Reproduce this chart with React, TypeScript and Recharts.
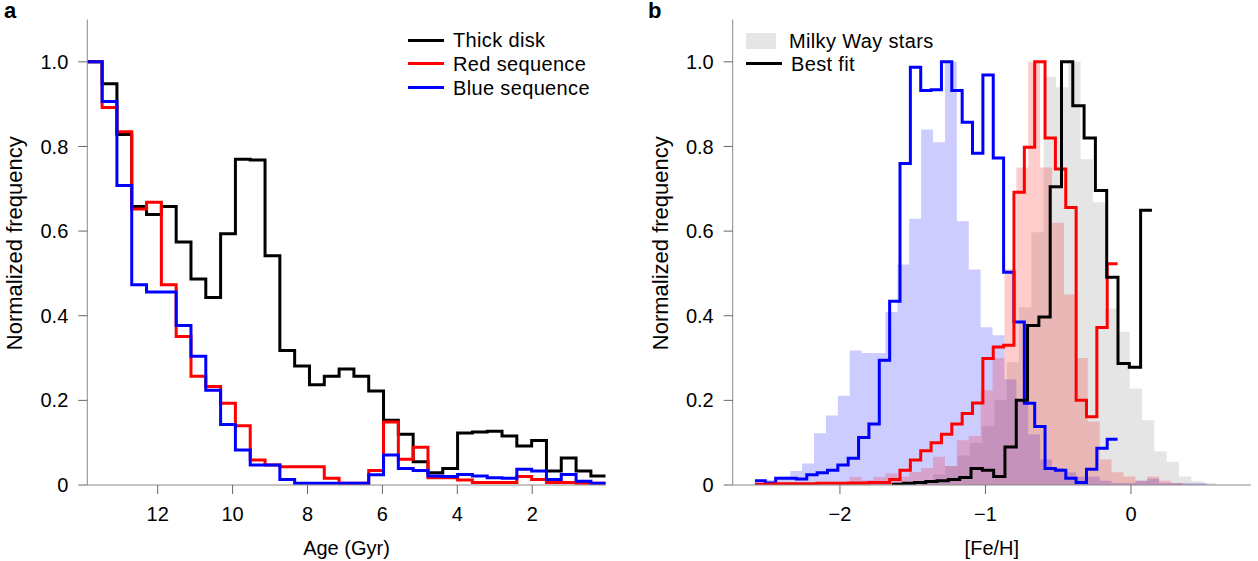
import React from "react";
import { Area, ComposedChart, Line, XAxis, YAxis } from "recharts";

const FONT = '"Liberation Sans", Arial, Helvetica, sans-serif';
const AXIS_GREY = "#8a8a8a";
const TICK_GREY = "#666";

// ---- panel a: age histograms (35 bins, ~0.4 Gyr wide, old -> young) ----
const AGE_START = 13.88;
const AGE_BIN = 0.3955;
const thickDisk = [
  1.0, 0.948, 0.828, 0.658, 0.639, 0.658, 0.574, 0.487, 0.443, 0.594, 0.77, 0.768,
  0.542, 0.318, 0.281, 0.237, 0.257, 0.274, 0.257, 0.222, 0.153, 0.12, 0.055, 0.029,
  0.039, 0.123, 0.125, 0.127, 0.116, 0.092, 0.105, 0.033, 0.064, 0.033, 0.021,
];
const redSequence = [
  1.0, 0.892, 0.835, 0.652, 0.668, 0.473, 0.351, 0.257, 0.233, 0.193, 0.14, 0.059,
  0.047, 0.043, 0.043, 0.043, 0.016, 0.004, 0.004, 0.034, 0.149, 0.061, 0.089, 0.017,
  0.017, 0.012, 0.006, 0.006, 0.006, 0.02, 0.013, 0.006, 0.006, 0.004, 0.004,
];
const blueSequence = [
  1.0, 0.906, 0.708, 0.473, 0.456, 0.456, 0.377, 0.304, 0.224, 0.143, 0.083, 0.047,
  0.047, 0.013, 0.004, 0.004, 0.004, 0.004, 0.004, 0.024, 0.071, 0.039, 0.034, 0.021,
  0.02, 0.025, 0.021, 0.017, 0.016, 0.037, 0.033, 0.013, 0.025, 0.009, 0.004,
];
const ageTicks = [12, 10, 8, 6, 4, 2];

// ---- panel b: [Fe/H] histograms ----
// fitted step lines
const LINE_START = -2.584;
const LINE_BIN = 0.0712;
const blueFit = [
  0.01, 0.005, 0.016, 0.016, 0.014, 0.024, 0.029, 0.035, 0.047, 0.063, 0.112, 0.144,
  0.295, 0.434, 0.76, 0.987, 0.932, 0.934, 1.0, 0.932, 0.857, 0.784, 0.969, 0.773,
  0.503, 0.385, 0.193, 0.138, 0.039, 0.035, 0.016, 0.006, 0.037, 0.087, 0.108,
];
const redFit = [
  0.002, 0.002, 0.003, 0.003, 0.003, 0.003, 0.004, 0.004, 0.004, 0.005, 0.005, 0.006,
  0.006, 0.013, 0.035, 0.059, 0.081, 0.1, 0.12, 0.144, 0.169, 0.194, 0.299, 0.326,
  0.33, 0.692, 0.798, 1.0, 0.82, 0.747, 0.656, 0.2, 0.161, 0.372, 0.523,
];
const BEST_START = -1.643;
const BEST_BIN = 0.0777;
const bestFit = [
  0.002, 0.004, 0.006, 0.008, 0.01, 0.013, 0.018, 0.039, 0.035, 0.02, 0.09, 0.2,
  0.377, 0.397, 0.705, 1.0, 0.896, 0.82, 0.696, 0.491, 0.287, 0.278, 0.649,
];
// shaded histograms: Milky Way stars (own binning) and the two model sequences
const MW_START = -1.4447;
const MW_BIN = 0.0845;
const milkyWay = [
  0.01, 0.025, 0.045, 0.07, 0.1, 0.14, 0.2, 0.29, 0.42, 0.597, 0.965, 0.94, 1.0, 0.77,
  0.668, 0.417, 0.362, 0.228, 0.153, 0.079, 0.055, 0.02, 0.009, 0.004,
];
const FILL_START = -2.669;
const FILL_BIN = 0.0818;
const blueStars = [
  0, 0.005, 0.012, 0.02, 0.033, 0.051, 0.122, 0.164, 0.211, 0.318, 0.312, 0.312, 0.409,
  0.521, 0.629, 0.84, 0.81, 1.0, 0.623, 0.509, 0.373, 0.354, 0.25, 0.2, 0.12, 0.06, 0.04,
  0.03, 0.02, 0.02, 0.01, 0.005, 0.005, 0.01, 0.015, 0.005, 0.005, 0.005, 0.005, 0, 0,
];
const redStars = [
  0, 0, 0, 0, 0, 0, 0, 0, 0.005, 0.019, 0.011, 0.019, 0.027, 0.02, 0.031, 0.04, 0.067,
  0.045, 0.106, 0.116, 0.224, 0.3, 0.51, 0.75, 1.0, 0.75, 0.62, 0.45, 0.3, 0.15, 0.06,
  0.03, 0.02, 0.01, 0.02, 0.01, 0.005, 0, 0, 0, 0,
];
const fehTicks = [-2, -1, 0];
const freqTicks = [0, 0.2, 0.4, 0.6, 0.8, 1.0];

// bin edges -> points for a stepAfter curve (last value repeated at the closing edge)
function steps(start: number, width: number, values: number[]) {
  const pts = values.map((v, i) => ({ x: start + width * i, y: v }));
  pts.push({ x: start + width * values.length, y: values[values.length - 1] });
  return pts;
}

const ageRows = thickDisk.map((_, i) => ({
  age: AGE_START - AGE_BIN * i,
  thick: thickDisk[i],
  red: redSequence[i],
  blue: blueSequence[i],
}));
ageRows.push({
  age: AGE_START - AGE_BIN * thickDisk.length,
  thick: thickDisk[thickDisk.length - 1],
  red: redSequence[redSequence.length - 1],
  blue: blueSequence[blueSequence.length - 1],
});

const tickStyle = { fill: "#000", fontSize: 20, fontFamily: FONT };
const freqFmt = (v: number) => (v === 0 ? "0" : v.toFixed(1));
const fehFmt = (v: number) => (v < 0 ? "\u2212" + Math.abs(v) : String(v));

function YTitle({ viewBox, cx }: any) {
  const y = viewBox.y + viewBox.height / 2 - 9;
  return (
    <text
      x={cx}
      y={y}
      transform={`rotate(-90 ${cx} ${y})`}
      textAnchor="middle"
      dominantBaseline="central"
      fontSize={22}
      fontFamily={FONT}
      fill="#000"
    >
      Normalized frequency
    </text>
  );
}

function XTitle({ viewBox, text }: any) {
  return (
    <text
      x={viewBox.x + viewBox.width / 2}
      y={548}
      textAnchor="middle"
      dominantBaseline="central"
      fontSize={20}
      fontFamily={FONT}
      fill="#000"
    >
      {text}
    </text>
  );
}

const legendText: React.CSSProperties = {
  position: "absolute",
  fontFamily: FONT,
  fontSize: 20,
  letterSpacing: "0.35px",
  lineHeight: "20px",
  height: 20,
  color: "#000",
  whiteSpace: "nowrap",
};

function LineKey({ x, y, color, label }: { x: number; y: number; color: string; label: string }) {
  return (
    <>
      <div style={{ position: "absolute", left: x, top: y - 1.5, width: 36, height: 3, background: color }} />
      <div style={{ ...legendText, left: x + 45, top: y - 10 }}>{label}</div>
    </>
  );
}

export default function App() {
  return (
    <div style={{ position: "absolute", left: 0, top: 0, width: 1258, height: 561, background: "#fff" }}>
      {/* panel a */}
      <div style={{ position: "absolute", left: 0, top: 0 }}>
        <ComposedChart width={620} height={561} data={ageRows} margin={{ top: 19.5, right: 14.3, left: 0, bottom: 0 }}>
          <XAxis
            dataKey="age"
            type="number"
            reversed
            domain={[AGE_START - AGE_BIN * 35, AGE_START]}
            allowDataOverflow
            ticks={ageTicks}
            tick={tickStyle}
            tickSize={9}
            tickMargin={13}
            tickLine={{ stroke: TICK_GREY }}
            axisLine={{ stroke: AXIS_GREY }}
            height={76}
            label={<XTitle text="Age (Gyr)" />}
          />
          <XAxis xAxisId="top" orientation="top" type="number" domain={[0, 1]} height={0} tick={false} tickLine={false} axisLine={{ stroke: "#222" }} />
          <YAxis
            type="number"
            domain={[0, 1.1]}
            allowDataOverflow
            ticks={freqTicks}
            tickFormatter={freqFmt}
            tick={tickStyle}
            tickSize={9}
            tickMargin={10}
            tickLine={{ stroke: TICK_GREY }}
            axisLine={{ stroke: AXIS_GREY }}
            width={87.3}
            label={<YTitle cx={14} />}
          />
          <YAxis yAxisId="right" orientation="right" type="number" domain={[0, 1]} width={0} tick={false} tickLine={false} axisLine={{ stroke: "#222" }} />
          <Line dataKey="thick" type="stepAfter" stroke="#000" strokeWidth={3} dot={false} activeDot={false} isAnimationActive={false} />
          <Line dataKey="red" type="stepAfter" stroke="#ff0000" strokeWidth={3} dot={false} activeDot={false} isAnimationActive={false} />
          <Line dataKey="blue" type="stepAfter" stroke="#0000ff" strokeWidth={3} dot={false} activeDot={false} isAnimationActive={false} />
        </ComposedChart>
      </div>
      <div style={{ position: "absolute", left: 4, top: -2, fontFamily: FONT, fontSize: 22, fontWeight: "bold" }}>a</div>
      <LineKey x={408} y={40} color="#000" label="Thick disk" />
      <LineKey x={408} y={63.5} color="#ff0000" label="Red sequence" />
      <LineKey x={408} y={87.5} color="#0000ff" label="Blue sequence" />

      {/* panel b */}
      <div style={{ position: "absolute", left: 620, top: 0 }}>
        <ComposedChart width={638} height={561} margin={{ top: 19.5, right: 7, left: 0, bottom: 0 }}>
          <XAxis
            dataKey="x"
            type="number"
            domain={[-2.737, 0.825]}
            allowDataOverflow
            ticks={fehTicks}
            tickFormatter={fehFmt}
            tick={tickStyle}
            tickSize={9}
            tickMargin={13}
            tickLine={{ stroke: TICK_GREY }}
            axisLine={{ stroke: AXIS_GREY }}
            height={76}
            label={<XTitle text="[Fe/H]" />}
          />
          <XAxis xAxisId="top" orientation="top" type="number" domain={[0, 1]} height={0} tick={false} tickLine={false} axisLine={{ stroke: "#222" }} />
          <YAxis
            type="number"
            domain={[0, 1.1]}
            allowDataOverflow
            ticks={freqTicks}
            tickFormatter={freqFmt}
            tick={tickStyle}
            tickSize={9}
            tickMargin={10}
            tickLine={{ stroke: TICK_GREY }}
            axisLine={{ stroke: AXIS_GREY }}
            width={112.7}
            label={<YTitle cx={40} />}
          />
          <YAxis yAxisId="right" orientation="right" type="number" domain={[0, 1]} width={0} tick={false} tickLine={false} axisLine={{ stroke: "#222" }} />
          <Area data={steps(MW_START, MW_BIN, milkyWay)} dataKey="y" type="stepAfter" stroke="none" fill="#e5e5e5" fillOpacity={1} isAnimationActive={false} />
          <Area data={steps(FILL_START, FILL_BIN, blueStars)} dataKey="y" type="stepAfter" stroke="none" fill="#0000ff" fillOpacity={0.2} isAnimationActive={false} />
          <Area data={steps(FILL_START, FILL_BIN, redStars)} dataKey="y" type="stepAfter" stroke="none" fill="#ff0000" fillOpacity={0.2} isAnimationActive={false} />
          <Line data={steps(LINE_START, LINE_BIN, blueFit)} dataKey="y" type="stepAfter" stroke="#0000ff" strokeWidth={3} dot={false} activeDot={false} isAnimationActive={false} />
          <Line data={steps(LINE_START, LINE_BIN, redFit)} dataKey="y" type="stepAfter" stroke="#ff0000" strokeWidth={3} dot={false} activeDot={false} isAnimationActive={false} />
          <Line data={steps(BEST_START, BEST_BIN, bestFit)} dataKey="y" type="stepAfter" stroke="#000" strokeWidth={3} dot={false} activeDot={false} isAnimationActive={false} />
        </ComposedChart>
      </div>
      <div style={{ position: "absolute", left: 648, top: -2, fontFamily: FONT, fontSize: 22, fontWeight: "bold" }}>b</div>
      <div style={{ position: "absolute", left: 746, top: 33, width: 30, height: 16, background: "#e5e5e5" }} />
      <div style={{ ...legendText, left: 789, top: 31 }}>Milky Way stars</div>
      <LineKey x={746} y={63.5} color="#000" label="Best fit" />
    </div>
  );
}
